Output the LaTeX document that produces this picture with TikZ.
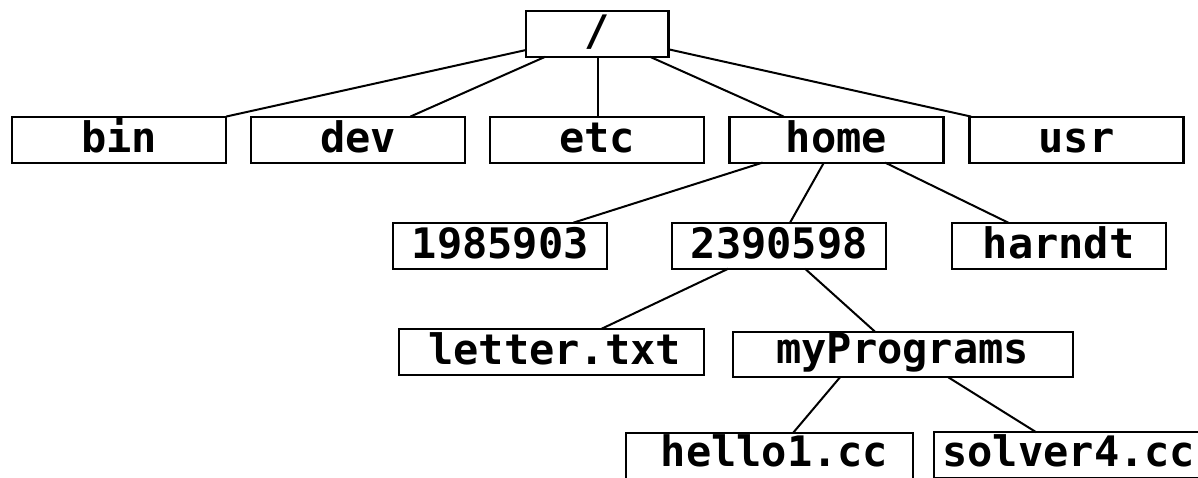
\documentclass[tikz,border=0pt]{standalone}
\usepackage{fontspec}
\setmonofont{DejaVu Sans Mono}
\usetikzlibrary{calc}
\begin{document}
\begin{tikzpicture}[x=0.5pt,y=-0.5pt,
  dirbox/.style={draw, rectangle, line width=1.1pt, inner sep=0pt, outer sep=0pt,
    font=\ttfamily\bfseries\fontsize{21pt}{25pt}\selectfont,
    text depth=0pt, minimum height=23pt},
  link/.style={line width=1.0pt}]
\useasboundingbox (0,0) rectangle (1198,477);
\clip (0,0) rectangle (1198,477);
\fill[white] (0,0) rectangle (1198,477);

% root directory
\node[dirbox, minimum width=71.25pt, minimum height=22.85pt, text height=12pt] (root) at (597.25,33.85) {/};

% first level
\node[dirbox, minimum width=107pt, text height=13pt] (bin)  at (119,139.6)    {bin};
\node[dirbox, minimum width=107pt, text height=13pt] (dev)  at (358,139.6)    {dev};
\node[dirbox, minimum width=107pt, text height=13pt] (etc)  at (597,139.6)    {etc};
\node[dirbox, minimum width=107pt, text height=13pt] (home) at (836.5,139.6)  {home};
\node[dirbox, minimum width=107pt, text height=13pt] (usr)  at (1076.5,139.6) {usr};

% user directories
\node[dirbox, minimum width=107pt, text height=13pt] (u1) at (500.3,245.7)  {1985903};
\node[dirbox, minimum width=107pt, text height=13pt] (u2) at (779.3,245.7)  {2390598};
\node[dirbox, minimum width=107pt, text height=13pt] (u3) at (1058.7,245.7) {harndt};

% contents of 2390598
\node[dirbox, minimum width=152.65pt, text height=12.3pt] (letter) at (551.7,351.7) {\hspace*{3pt}letter.txt};
\node[dirbox, minimum width=170pt, minimum height=22.8pt, text height=8.8pt] (progs) at (902.7,354.5) {myPrograms};

% contents of myPrograms
\node[dirbox, minimum width=143.5pt, text height=10.4pt] (hello)  at (769.5,456.3)  {\hspace*{5pt}hello1.cc};
\node[dirbox, minimum width=134.8pt, text height=11.4pt] (solver) at (1068.8,455.3) {solver4.cc};

% connectors
\draw[link] ($(root.south west)+(0,-6.7)$)   -- (bin.north east);
\draw[link] ($(root.south west)+(19.4,0)$)   -- ($(dev.north west)+(159.3,0)$);
\draw[link] ($(root.south west)+(71.8,0)$)   -- ($(etc.north west)+(107.8,0)$);
\draw[link] ($(root.south west)+(123.8,0)$)  -- ($(home.north west)+(54.2,0)$);
\draw[link] ($(root.south east)+(0,-7.4)$)   -- ($(usr.north west)+(1.7,0)$);

\draw[link] ($(home.south west)+(33.1,0)$)   -- ($(u1.north west)+(180,0)$);
\draw[link] ($(home.south west)+(94.4,0)$)   -- ($(u2.north west)+(117.7,0)$);
\draw[link] ($(home.south west)+(155.6,0)$)  -- ($(u3.north west)+(56.6,0)$);

\draw[link] ($(u2.south west)+(56,0)$)       -- ($(letter.north west)+(202.7,0)$);
\draw[link] ($(u2.south west)+(132.7,0)$)    -- ($(progs.north west)+(142.3,0)$);

\draw[link] ($(progs.south west)+(107.3,0)$) -- ($(hello.north west)+(166.7,0)$);
\draw[link] ($(progs.south west)+(215.6,0)$) -- ($(solver.north west)+(102.3,0)$);
\end{tikzpicture}
\end{document}
